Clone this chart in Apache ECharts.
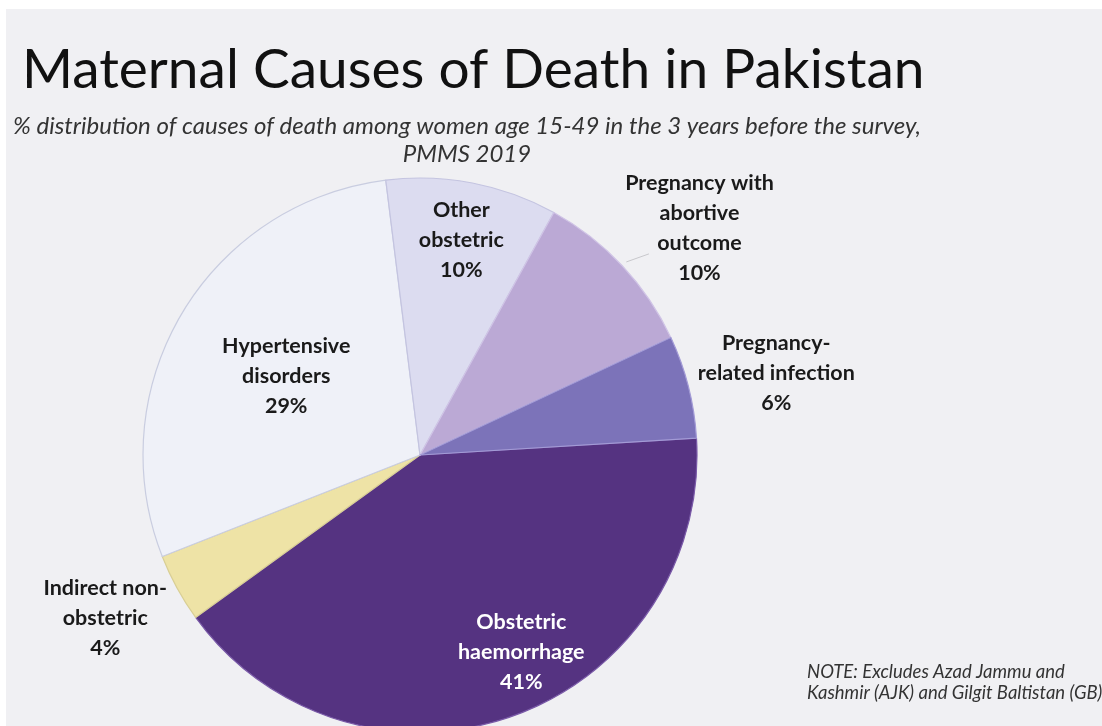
<!DOCTYPE html>
<html>
<head>
<meta charset="utf-8">
<script src="https://cdn.jsdelivr.net/npm/echarts@6/dist/echarts.min.js"></script>
<style>
html,body{margin:0;padding:0;background:#f0f0f3;overflow:hidden;}
#chart{width:1102px;height:726px;display:block;}
</style>
</head>
<body>
<div id="chart"></div>
<script>
// ---- data ----
const categories = ['Obstetric haemorrhage', 'Indirect non-obstetric', 'Hypertensive disorders', 'Other obstetric', 'Pregnancy with abortive outcome', 'Pregnancy-related infection'];
const values = [41, 4, 29, 10, 10, 6];
const labelTexts = ['Obstetric\nhaemorrhage', 'Indirect non-\nobstetric', 'Hypertensive\ndisorders', 'Other\nobstetric', 'Pregnancy with\nabortive\noutcome', 'Pregnancy-\nrelated infection'];
const titleText = 'Maternal Causes of Death in Pakistan';
const subtitleLines = ['% distribution of causes of death among women age 15-49 in the 3 years before the survey,', 'PMMS 2019'];
const noteLines = ['NOTE: Excludes Azad Jammu and', 'Kashmir (AJK) and Gilgit Baltistan (GB)'];

// ---- style ----
const colors = ['#553381', '#eee3a6', '#eff1f8', '#dcdcf0', '#bba9d5', '#7c73b9'];
const borderColors = ['#7a5aa8', '#d9cf95', '#c9cde0', '#c4c4e0', '#d0c4e6', '#a39bd6'];
const labelColors = ['#ffffff', '#1a1a1a', '#1a1a1a', '#1a1a1a', '#1a1a1a', '#1a1a1a'];
const radialFactor = [0.80, 1.28, 0.56, 0.79, 1.30, 1.32];
const angleShift = [7.5, -1.3, 0.3, 0, -4, -1.3];
const leaderIndex = 4; // slice whose label has a short leader line
const CX = 420, CY = 455, R = 277, START = 3.5;
const FONT = 'Lato, "Open Sans", sans-serif';

const total = values.reduce((a, b) => a + b, 0);
const midAngles = [];
let cum = 0;
values.forEach(v => { midAngles.push(START - (cum + v / 2) / total * 360); cum += v; });

function polar(angleDeg, dist) {
  const a = angleDeg * Math.PI / 180;
  return [CX + dist * Math.cos(a), CY - dist * Math.sin(a)];
}
const leadA = polar(midAngles[leaderIndex], R * 1.02);
const leadB = polar(midAngles[leaderIndex] - 1.8, R * 1.10);

const chart = echarts.init(document.getElementById('chart'));
chart.setOption({
  backgroundColor: '#f0f0f3',
  animation: false,
  graphic: [
    { type: 'rect', shape: { x: 0, y: 0, width: 1102, height: 9 }, style: { fill: '#ffffff' }, silent: true },
    { type: 'rect', shape: { x: 0, y: 0, width: 6, height: 726 }, style: { fill: '#ffffff' }, silent: true },
    { type: 'text', x: 22, y: 43, style: { text: titleText, font: '55px ' + FONT, fill: '#111111', verticalAlign: 'top' } },
    { type: 'text', x: 467, y: 126, style: { text: subtitleLines[0], font: 'italic 24px ' + FONT, fill: '#333333', align: 'center', verticalAlign: 'middle' } },
    { type: 'text', x: 467, y: 154, style: { text: subtitleLines[1], font: 'italic 24px ' + FONT, fill: '#333333', align: 'center', verticalAlign: 'middle' } },
    { type: 'text', x: 807, y: 672, style: { text: noteLines[0], font: 'italic 18.5px ' + FONT, fill: '#333333', verticalAlign: 'middle' } },
    { type: 'text', x: 807, y: 693, style: { text: noteLines[1], font: 'italic 18.5px ' + FONT, fill: '#333333', verticalAlign: 'middle' } },
    { type: 'line', z: 10, shape: { x1: leadA[0], y1: leadA[1], x2: leadB[0], y2: leadB[1] }, style: { stroke: '#c8c8cc', lineWidth: 1 } }
  ],
  series: [{
    type: 'pie',
    center: [CX, CY],
    radius: [0, R],
    startAngle: START,
    clockwise: true,
    avoidLabelOverlap: false,
    data: categories.map((c, i) => ({
      name: c,
      value: values[i],
      itemStyle: { color: colors[i], borderColor: borderColors[i], borderWidth: 1.2 },
      label: { color: labelColors[i] }
    })),
    label: {
      show: true,
      position: 'inside',
      fontFamily: FONT,
      fontWeight: 'bold',
      fontSize: 21.5,
      lineHeight: 30,
      align: 'center',
      formatter: p => labelTexts[p.dataIndex] + '\n' + p.value + '%'
    },
    labelLine: { show: false },
    labelLayout: function (p) {
      const i = p.dataIndex;
      const pt = polar(midAngles[i] + angleShift[i], radialFactor[i] * R);
      return { x: pt[0], y: pt[1], align: 'center', verticalAlign: 'middle' };
    }
  }]
});
</script>
</body>
</html>
